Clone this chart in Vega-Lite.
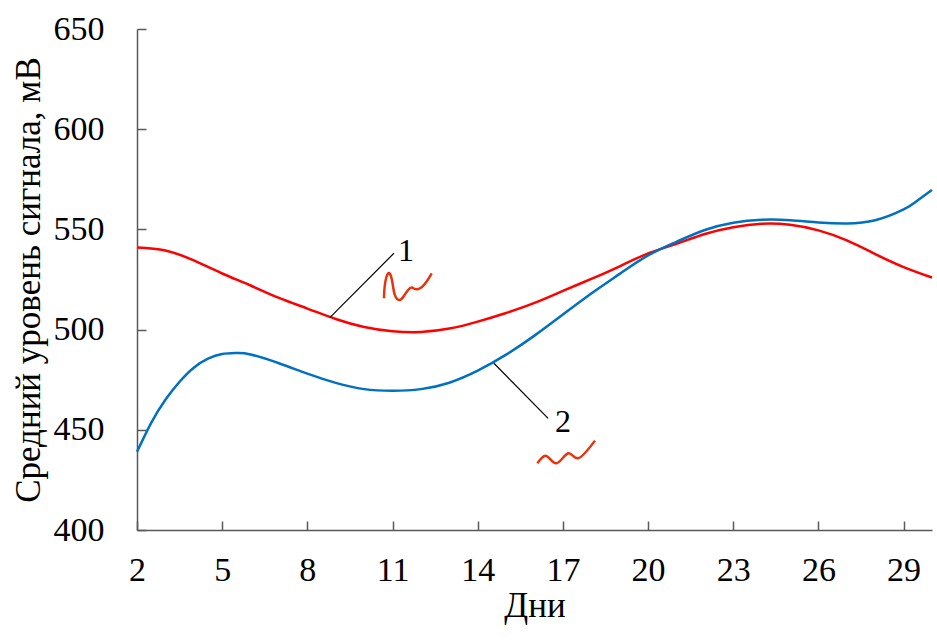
{
  "$schema": "https://vega.github.io/schema/vega-lite/v6.json",
  "width": 795,
  "height": 501,
  "autosize": {"type": "none"},
  "padding": {"left": 137, "top": 29, "right": 5, "bottom": 112},
  "background": "white",
  "config": {
    "view": {"stroke": null},
    "axis": {
      "grid": false, "domainColor": "#595959", "domainWidth": 1.5,
      "tickColor": "#595959", "tickWidth": 1.5, "tickSize": -9,
      "labelFont": "Liberation Serif", "labelFontSize": 34, "labelColor": "black",
      "labelFlush": false, "labelOverlap": false,
      "titleFont": "Liberation Serif", "titleFontSize": 35, "titleFontWeight": "normal", "titleColor": "black"
    },
    "text": {"font": "Liberation Serif"}
  },
  "datasets": {
    "curves": [
      {"x": 2, "y": 541.0, "s": "1"}, {"x": 3, "y": 539.5, "s": "1"}, {"x": 4, "y": 534.5, "s": "1"},
      {"x": 5, "y": 528.0, "s": "1"}, {"x": 6, "y": 522.0, "s": "1"}, {"x": 7, "y": 515.8, "s": "1"},
      {"x": 8, "y": 510.5, "s": "1"}, {"x": 9, "y": 505.3, "s": "1"}, {"x": 10, "y": 501.3, "s": "1"},
      {"x": 11, "y": 499.2, "s": "1"}, {"x": 12, "y": 498.8, "s": "1"}, {"x": 13, "y": 500.5, "s": "1"},
      {"x": 14, "y": 504.0, "s": "1"}, {"x": 15, "y": 508.3, "s": "1"}, {"x": 16, "y": 513.3, "s": "1"},
      {"x": 17, "y": 519.3, "s": "1"}, {"x": 18, "y": 525.3, "s": "1"}, {"x": 19, "y": 531.6, "s": "1"},
      {"x": 20, "y": 538.0, "s": "1"}, {"x": 21, "y": 542.8, "s": "1"}, {"x": 22, "y": 547.7, "s": "1"},
      {"x": 23, "y": 551.1, "s": "1"}, {"x": 24, "y": 552.8, "s": "1"}, {"x": 25, "y": 552.3, "s": "1"},
      {"x": 26, "y": 549.5, "s": "1"}, {"x": 27, "y": 544.5, "s": "1"}, {"x": 28, "y": 537.7, "s": "1"},
      {"x": 29, "y": 531.2, "s": "1"}, {"x": 30, "y": 526.0, "s": "1"},
      {"x": 2, "y": 439.0, "s": "2"}, {"x": 2.5, "y": 453.5, "s": "2"}, {"x": 3, "y": 465.0, "s": "2"},
      {"x": 3.5, "y": 474.0, "s": "2"}, {"x": 4, "y": 481.0, "s": "2"}, {"x": 4.5, "y": 485.5, "s": "2"},
      {"x": 5, "y": 487.8, "s": "2"}, {"x": 5.5, "y": 488.3, "s": "2"}, {"x": 6, "y": 487.6, "s": "2"},
      {"x": 7, "y": 483.2, "s": "2"}, {"x": 8, "y": 478.0, "s": "2"}, {"x": 9, "y": 473.4, "s": "2"},
      {"x": 10, "y": 470.3, "s": "2"}, {"x": 11, "y": 469.5, "s": "2"}, {"x": 12, "y": 470.3, "s": "2"},
      {"x": 13, "y": 473.5, "s": "2"}, {"x": 14, "y": 479.5, "s": "2"}, {"x": 15, "y": 487.5, "s": "2"},
      {"x": 16, "y": 497.0, "s": "2"}, {"x": 17, "y": 507.5, "s": "2"}, {"x": 18, "y": 518.0, "s": "2"},
      {"x": 19, "y": 527.8, "s": "2"}, {"x": 20, "y": 537.0, "s": "2"}, {"x": 21, "y": 543.8, "s": "2"},
      {"x": 22, "y": 549.7, "s": "2"}, {"x": 23, "y": 553.3, "s": "2"}, {"x": 24, "y": 554.8, "s": "2"},
      {"x": 25, "y": 554.6, "s": "2"}, {"x": 26, "y": 553.5, "s": "2"}, {"x": 27, "y": 553.0, "s": "2"},
      {"x": 28, "y": 554.6, "s": "2"}, {"x": 29, "y": 560.0, "s": "2"}, {"x": 29.5, "y": 564.5, "s": "2"},
      {"x": 30, "y": 569.7, "s": "2"}
    ],
    "leaders": [
      {"x": 8.8, "y": 506.1, "id": "a"}, {"x": 11.05, "y": 538.1, "id": "a"},
      {"x": 14.57, "y": 483.2, "id": "b"}, {"x": 16.48, "y": 455.7, "id": "b"}
    ],
    "labels": [
      {"x": 11.47, "y": 539.2, "t": "1"},
      {"x": 17.0, "y": 454.1, "t": "2"}
    ],
    "squiggles": [
      {"x": 10.70, "y": 515.6, "id": "a"}, {"x": 10.73, "y": 522.3, "id": "a"}, {"x": 10.85, "y": 528.1, "id": "a"},
      {"x": 10.98, "y": 524.8, "id": "a"}, {"x": 11.08, "y": 517.3, "id": "a"}, {"x": 11.26, "y": 514.8, "id": "a"},
      {"x": 11.40, "y": 516.8, "id": "a"}, {"x": 11.55, "y": 519.8, "id": "a"}, {"x": 11.68, "y": 521.0, "id": "a"},
      {"x": 11.85, "y": 520.1, "id": "a"}, {"x": 12.11, "y": 522.3, "id": "a"}, {"x": 12.38, "y": 528.1, "id": "a"},
      {"x": 16.10, "y": 433.3, "id": "b"}, {"x": 16.43, "y": 436.9, "id": "b"}, {"x": 16.78, "y": 433.3, "id": "b"},
      {"x": 17.19, "y": 438.3, "id": "b"}, {"x": 17.54, "y": 435.8, "id": "b"}, {"x": 18.13, "y": 444.6, "id": "b"}
    ]
  },
  "encoding": {
    "x": {
      "field": "x", "type": "quantitative",
      "scale": {"domain": [2, 30], "nice": false, "zero": false},
      "axis": {
        "values": [2, 5, 8, 11, 14, 17, 20, 23, 26, 29],
        "labelFont": "Liberation Serif", "labelFontSize": 34, "labelPadding": 32,
        "title": "Дни", "titlePadding": 1
      }
    },
    "y": {
      "field": "y", "type": "quantitative",
      "scale": {"domain": [400, 650], "nice": false, "zero": false},
      "axis": {
        "values": [400, 450, 500, 550, 600, 650],
        "labelFont": "Liberation Serif", "labelFontSize": 34, "labelPadding": 42,
        "title": "Средний уровень сигнала, мВ", "titlePadding": 7
      }
    }
  },
  "layer": [
    {
      "data": {"name": "curves"},
      "mark": {"type": "line", "interpolate": "natural", "strokeWidth": 2.5},
      "encoding": {
        "color": {"field": "s", "type": "nominal", "scale": {"domain": ["1", "2"], "range": ["#ff0000", "#0070c0"]}, "legend": null}
      }
    },
    {
      "data": {"name": "leaders"},
      "mark": {"type": "line", "strokeWidth": 1.2, "color": "black"},
      "encoding": {"detail": {"field": "id", "type": "nominal"}}
    },
    {
      "data": {"name": "squiggles"},
      "mark": {"type": "line", "interpolate": "natural", "strokeWidth": 2.5, "color": "#e8340c"},
      "encoding": {"detail": {"field": "id", "type": "nominal"}}
    },
    {
      "data": {"name": "labels"},
      "mark": {"type": "text", "font": "Liberation Serif", "fontSize": 32, "color": "black", "align": "center", "baseline": "middle"},
      "encoding": {"text": {"field": "t", "type": "nominal"}}
    }
  ]
}
